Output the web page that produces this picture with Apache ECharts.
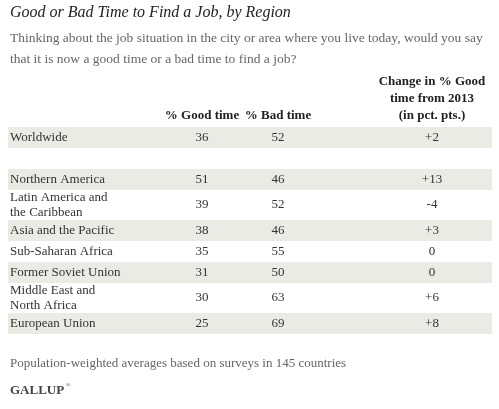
<!DOCTYPE html>
<html>
<head>
<meta charset="utf-8">
<script src="https://cdn.jsdelivr.net/npm/echarts@6/dist/echarts.min.js"></script>
<style>html,body{margin:0;padding:0;background:#fff}#chart{width:499px;height:409px}</style>
</head>
<body>
<div id="chart"></div>
<script>
var regions = ['Worldwide', '', 'Northern America', 'Latin America and\nthe Caribbean', 'Asia and the Pacific',
    'Sub-Saharan Africa', 'Former Soviet Union', 'Middle East and\nNorth Africa', 'European Union'];
var goodTime = ['36', '', '51', '39', '38', '35', '31', '30', '25'];
var badTime = ['52', '', '46', '52', '46', '55', '50', '63', '69'];
var change = ['+2', '', '+13', '-4', '+3', '0', '0', '+6', '+8'];
var headers = ['% Good time', '% Bad time', 'Change in % Good\ntime from 2013\n(in pct. pts.)'];

var font = '"Liberation Serif", "Times New Roman", serif';
var colX = [202, 278, 432];
var elements = [];

// titre + sous-titre
elements.push({type: 'text', left: 10, top: 5, style: {text: 'Good or Bad Time to Find a Job, by Region',
    font: 'italic 16px ' + font, fill: '#222'}});
elements.push({type: 'text', left: 10, top: 28, style: {text: 'Thinking about the job situation in the city or area where you live today, would you say\nthat it is now a good time or a bad time to find a job?',
    font: '13.5px ' + font, fill: '#666', lineHeight: 21}});

// en-têtes
for (var h = 0; h < headers.length; h++) {
    elements.push({type: 'text', x: colX[h], y: 124, style: {text: headers[h], font: 'bold 13px ' + font,
        fill: '#222', align: 'center', verticalAlign: 'bottom', lineHeight: 17}});
}

// lignes
var y = 127;
for (var i = 0; i < regions.length; i++) {
    var twoLines = regions[i].indexOf('\n') >= 0;
    var hgt = twoLines ? 30 : 21;
    if (i % 2 === 0) {
        elements.push({type: 'rect', shape: {x: 8, y: y, width: 484, height: hgt}, style: {fill: '#ebebe6'}});
    }
    var cy = y + hgt / 2;
    var st = {font: '13px ' + font, fill: '#333', verticalAlign: 'middle', lineHeight: 15};
    elements.push({type: 'text', x: 10, y: cy, style: Object.assign({text: regions[i], align: 'left'}, st)});
    var vals = [goodTime[i], badTime[i], change[i]];
    for (var c = 0; c < 3; c++) {
        elements.push({type: 'text', x: colX[c], y: cy, style: Object.assign({text: vals[c], align: 'center'}, st)});
    }
    y += hgt;
}

elements.push({type: 'text', left: 10, top: 357, style: {text: 'Population-weighted averages based on surveys in 145 countries',
    font: '13px ' + font, fill: '#666'}});
elements.push({type: 'text', left: 10, top: 384, style: {text: 'GALLUP', font: 'bold 13px ' + font, fill: '#444'}});
elements.push({type: 'text', left: 66, top: 382, style: {text: '®', font: '6px ' + font, fill: '#444'}});

var myChart = echarts.init(document.getElementById('chart'));
myChart.setOption({animation: false, graphic: elements});
</script>
</body>
</html>
